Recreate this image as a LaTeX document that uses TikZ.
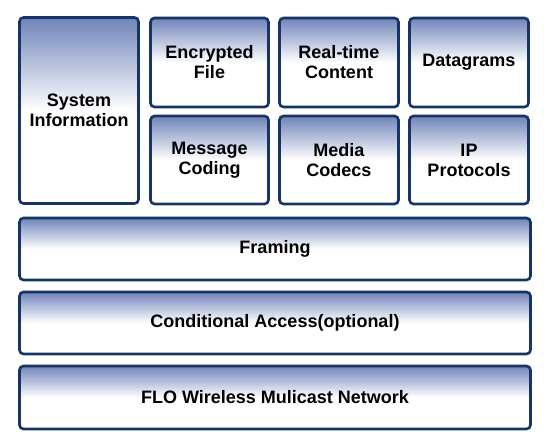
\documentclass[tikz,border=0pt]{standalone}
\usepackage{fontspec}
\setmainfont{Liberation Sans}
\definecolor{edgeblue}{RGB}{22,52,100}
\definecolor{topblue}{RGB}{112,132,186}
\tikzset{
  layer/.style={draw=edgeblue, line width=2.6pt, rounded corners=4pt,
    top color=topblue, bottom color=white, middle color=white,
    align=center, inner sep=0pt,
    font=\fontsize{18}{20}\selectfont\bfseries},
}
\begin{document}
\begin{tikzpicture}[x=1pt,y=-1pt]
        \useasboundingbox (0,0) rectangle (550,446);
        % top blocks
        \node[layer, minimum width=119pt, minimum height=186pt] (sysinfo) at (79,110.5) {System\\Information};
        \node[layer, minimum width=118pt, minimum height=89pt] (encfile) at (209.5,62.5) {Encrypted\\File};
        \node[layer, minimum width=118pt, minimum height=88pt] (msgcoding) at (209.5,160) {Message\\Coding};
        \node[layer, minimum width=119pt, minimum height=89pt] (realtime) at (339,62.5) {Real-time\\Content};
        \node[layer, minimum width=119pt, minimum height=88pt] (codecs) at (339,160) {Media\\Codecs};
        \node[layer, minimum width=119pt, minimum height=89pt] (datagrams) at (469,62.5) {Datagrams};
        \node[layer, minimum width=119pt, minimum height=88pt] (ipproto) at (469,160) {IP\\Protocols};
        % layers
        \node[layer, minimum width=511pt, minimum height=62pt] (framing) at (275,249) {Framing};
        \node[layer, minimum width=511pt, minimum height=62pt] (condaccess) at (275,323) {Conditional Access(optional)};
        \node[layer, minimum width=511pt, minimum height=63pt] (flo) at (275,397.5) {FLO Wireless Mulicast Network};
      \end{tikzpicture}
\end{document}
